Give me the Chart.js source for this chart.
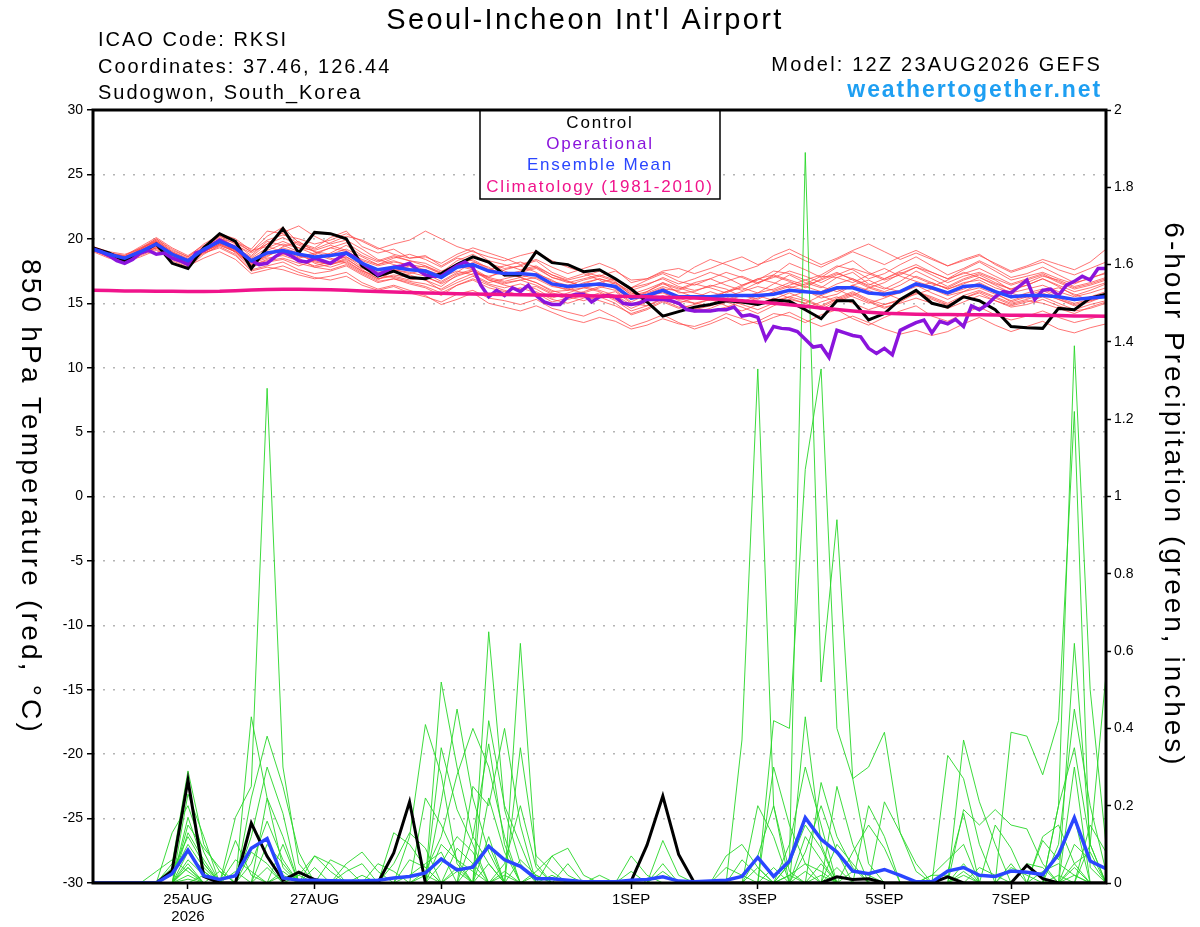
<!DOCTYPE html>
<html>
<head>
<meta charset="utf-8">
<title>Seoul-Incheon Int'l Airport</title>
<script src="https://cdn.jsdelivr.net/npm/chart.js@4.4.1/dist/chart.umd.min.js"></script>
<style>
  html, body { margin: 0; padding: 0; background: #fff; }
  #wrap { width: 1200px; height: 927px; }
</style>
</head>
<body>
<div id="wrap"><canvas id="meteogram" width="1200" height="927"></canvas></div>
<script>
// 6-hourly GEFS fields (0..384 h), operational run is 3-hourly
const ENS_STEP = 6;
const OPER_STEP = 3;

const xTickHours = [36, 84, 132, 204, 252, 300, 348];
const xTickLabels = [["25AUG", "2026"], "27AUG", "29AUG", "1SEP", "3SEP", "5SEP", "7SEP"];

const tempControl = [
  19.3, 18.9, 18.3, 18.9, 19.6, 18.1, 17.7, 19.3, 20.4, 19.8, 17.7, 19.3, 20.8,
  18.9, 20.5, 20.4, 20.0, 17.9, 17.1, 17.5, 17.0, 16.9, 17.3, 18.0, 18.6, 18.2,
  17.2, 17.2, 19.0, 18.15, 18.0, 17.45, 17.6, 16.9, 16.1, 15.1, 14.0, 14.35, 14.7,
  14.9, 15.2, 15.1, 14.9, 15.25, 15.15, 14.5, 13.8, 15.2, 15.2, 13.7, 14.2, 15.3,
  16.0, 15.0, 14.7, 15.5, 15.2, 14.5, 13.2, 13.1, 13.05, 14.6, 14.5, 15.4, 15.7
];

const tempMean = [
  19.2, 18.8, 18.5, 19.0, 19.6, 18.8, 18.3, 19.2, 19.8, 19.3, 18.3, 18.9, 19.1,
  18.8, 18.6, 18.7, 18.9, 18.1, 17.6, 17.8, 17.6, 17.5, 17.0, 17.8, 18.0, 17.5,
  17.3, 17.3, 17.2, 16.5, 16.3, 16.4, 16.5, 16.3, 15.4, 15.6, 16.0, 15.5, 15.5,
  15.5, 15.6, 15.6, 15.6, 15.7, 16.0, 15.9, 15.8, 16.2, 16.2, 15.8, 15.7, 15.9,
  16.5, 16.2, 15.8, 16.3, 16.4, 15.9, 15.5, 15.6, 15.6, 15.5, 15.3, 15.4, 15.5
];

const tempClimatology = [
  16.0, 15.98, 15.96, 15.95, 15.94, 15.93, 15.92, 15.92, 15.93, 15.97, 16.02, 16.06, 16.09,
  16.09, 16.07, 16.04, 16.0, 15.96, 15.92, 15.88, 15.84, 15.8, 15.77, 15.74, 15.72, 15.7,
  15.68, 15.66, 15.64, 15.62, 15.6, 15.58, 15.56, 15.54, 15.52, 15.5, 15.47, 15.44, 15.4,
  15.35, 15.28, 15.2, 15.1, 15.0, 14.88, 14.76, 14.64, 14.52, 14.4, 14.3, 14.22, 14.18,
  14.15, 14.13, 14.12, 14.11, 14.1, 14.09, 14.07, 14.06, 14.05, 14.04, 14.02, 14.01, 14.0
];

const tempOperational = [
  19.2, 19.0, 18.7, 18.3, 18.1, 18.4, 18.9, 19.1, 18.8, 18.9, 18.5, 18.3, 18.0, 18.9, 19.1, 19.5,
  19.9, 19.6, 19.3, 18.8, 18.3, 18.0, 18.1, 18.6, 19.0, 18.7, 18.3, 18.2, 18.5, 18.3, 18.1, 18.5,
  18.9, 18.6, 18.1, 17.7, 17.2, 17.5, 17.8, 17.9, 18.1, 17.6, 17.2, 17.1, 17.1, 17.5, 17.9,
  18.2, 17.8, 16.4, 15.5, 16.0, 15.6, 16.2, 15.9, 16.4, 15.6, 15.1, 14.9, 14.9, 15.5, 15.7,
  15.7, 15.1, 15.5, 15.6, 15.5, 15.0, 14.9, 15.0, 15.3, 15.3, 15.3, 15.2, 15.0, 14.5, 14.4,
  14.4, 14.4, 14.5, 14.5, 14.7, 14.0, 14.1, 13.9, 12.2,
  13.2, 13.05, 13.0, 12.8, 12.2, 11.6, 11.7, 10.8, 12.9, 12.7, 12.5, 12.4, 11.5, 11.1, 11.5,
  11.0, 12.9, 13.2, 13.5, 13.7, 12.7, 13.6, 13.4, 13.75, 13.2, 14.8, 14.5, 14.9, 15.5, 15.9,
  15.8, 16.3, 16.8, 15.3, 16.0, 16.1, 15.6, 16.4, 16.7, 17.1, 16.8, 17.7, 17.7
];

const precipControl = [
  0, 0, 0, 0, 0, .032, .266, .017, 0, 0, .155, .069, .007,
  .028, .009, 0, 0, 0, 0, .078, .21, 0, 0, 0, 0, 0,
  0, 0, 0, 0, 0, 0, 0, 0, .005, .098, .225, .074, 0,
  0, 0, 0, 0, 0, 0, 0, 0, .016, .009, .011, 0, 0,
  0, 0, .016, 0, 0, 0, 0, .046, .011, 0, 0, 0, 0
];

const precipMean = [
  0, 0, 0, 0, 0, .024, .085, .019, .009, .019, .09, .115, .013,
  .007, .007, .006, .005, .005, .007, .013, .017, .026, .062, .034, .041, .095,
  .06, .043, .011, .011, .007, .003, .003, .003, .007, .009, .016, .005, .003,
  .005, .007, .017, .066, .017, .057, .169, .113, .08, .031, .024, .035, .02,
  .003, .003, .031, .04, .02, .017, .031, .028, .022, .074, .169, .057, .037
];

// ensemble members, 850 hPa temperature (C)
const tempMembers = [
  [19.3,18.6,18.4,19.2,20.0,19.1,18.6,19.6,20.3,19.8,19.0,20.2,20.9, 19.7,19.3,20.1,20.6,19.4,18.9,19.2,18.5,18.7,17.9,18.6,19.1,18.3, 18.0,17.6,17.9,17.2,16.8,17.1,17.5,16.9,16.2,16.8,17.3,16.7,16.4, 16.9,17.4,17.0,16.5,17.2,18.1,17.6,17.0,17.8,18.3,17.4,16.9,17.5, 18.0,17.4,16.9,17.6,18.2,17.5,16.8,17.1,17.4,16.9,16.5,17.0,17.3],
  [19.1,18.7,18.2,18.6,19.1,18.4,17.9,18.5,19.0,18.4,17.3,17.6,17.9, 17.4,17.0,16.8,17.1,16.4,16.0,16.3,15.8,15.5,15.1,15.7,16.0,15.4, 15.2,14.9,15.3,14.6,14.3,14.0,14.5,13.9,13.2,13.6,14.1,13.5,13.0, 13.4,13.9,13.3,13.6,14.2,14.0,13.5,14.1,14.5,13.8,13.3,13.9,14.4, 14.8,14.0,13.6,14.2,14.7,14.1,13.7,14.0,14.4,13.9,13.5,13.8,14.1],
  [19.4,18.9,18.6,19.3,19.8,18.9,18.1,19.4,20.2,19.6,18.7,19.8,19.5, 19.0,18.2,18.0,18.5,17.6,16.9,17.2,17.0,16.8,16.3,17.2,17.5,17.0, 17.6,17.9,18.3,17.4,16.9,17.3,16.8,16.1,15.3,15.9,16.6,15.8,15.9, 16.4,16.1,15.5,15.8,16.5,17.2,16.6,16.2,17.0,17.4,16.5,16.1,16.7, 17.5,16.9,16.3,16.9,17.3,16.8,16.0,16.4,16.9,16.3,15.6,16.0,16.5],
  [19.2,18.8,18.6,18.8,19.3,18.6,18.4,19.0,19.6,19.5,18.9,19.6,20.5, 21.0,20.2,19.6,19.9,19.2,18.4,18.0,17.7,17.9,17.4,18.3,18.8,18.1, 17.5,17.0,16.6,15.9,16.0,16.5,16.9,16.6,15.8,15.5,15.9,15.2,15.0, 14.8,15.2,15.6,15.3,15.9,16.3,16.0,15.4,15.7,16.4,16.0,15.5,15.8, 16.3,16.6,16.1,16.5,17.0,16.4,15.8,15.4,15.9,16.2,15.7,15.2,15.5],
  [19.0,18.5,18.3,19.1,19.5,18.5,18.0,19.1,19.9,18.9,17.8,18.2,18.4, 17.9,18.3,18.9,19.5,18.7,18.2,18.6,18.3,18.1,17.5,17.9,17.6,16.9, 16.6,16.8,16.4,15.8,15.5,15.2,15.6,15.9,15.0,14.8,15.3,14.9,14.6, 14.4,14.7,15.1,15.6,15.2,15.5,15.9,15.6,15.1,15.6,16.2,15.8,15.3, 15.7,16.1,15.6,15.9,16.5,15.8,15.1,15.5,15.8,15.3,14.8,15.1,15.6],
  [19.3,18.9,18.7,19.4,20.1,19.3,18.7,19.5,19.9,19.1,18.2,18.6,19.4, 19.8,19.0,18.5,18.1,17.4,16.8,17.5,17.9,17.3,16.7,17.4,18.2,17.8, 17.1,17.4,17.7,17.0,16.6,16.9,17.2,16.8,16.0,16.4,17.0,16.5,16.9, 17.4,17.0,16.4,16.8,17.5,17.3,16.8,17.2,17.9,17.6,16.9,17.3,18.0, 18.6,17.9,17.2,17.7,18.3,17.7,17.0,17.3,17.8,17.2,16.6,16.9,17.4],
  [19.1,18.6,18.4,18.9,19.4,18.7,18.1,18.9,19.4,18.8,17.6,17.9,18.2, 17.6,17.3,17.5,17.9,17.2,16.6,16.9,16.5,16.2,15.6,16.4,16.9,16.4, 16.0,15.6,15.9,15.3,15.0,15.4,15.8,15.2,14.4,14.8,15.4,14.9,14.3, 14.6,15.1,14.7,14.2,14.8,15.3,15.0,14.5,15.2,15.7,15.1,14.6,15.1, 15.8,15.3,14.8,15.4,15.9,15.4,14.9,15.2,15.0,14.6,14.2,14.7,15.1],
  [19.4,19.0,18.8,19.2,19.9,19.0,18.5,19.3,20.4,20.0,19.1,19.4,19.0, 18.6,18.9,19.3,19.0,18.4,18.0,18.5,18.8,18.4,17.8,18.5,18.3,17.6, 17.9,18.2,17.8,17.0,16.7,16.3,16.0,15.6,14.9,15.4,16.1,16.0,16.5, 16.2,15.8,16.3,16.9,16.6,16.2,16.5,17.1,17.0,16.6,17.2,17.7,17.1, 16.7,16.3,16.8,17.4,17.0,16.5,16.1,16.6,17.1,16.8,16.3,16.6,17.0],
  [19.2,18.7,18.3,18.7,19.2,18.3,17.8,18.8,19.5,19.0,18.0,18.8,19.3, 18.9,18.1,17.8,18.2,17.5,17.1,17.4,17.2,16.8,16.0,16.6,17.1,16.5, 16.2,16.5,16.1,15.4,15.8,16.2,15.9,15.3,14.6,15.1,15.6,15.0,15.4, 15.9,15.5,15.0,15.4,15.9,15.4,15.0,15.6,16.1,15.5,15.0,15.4,15.9, 16.4,15.8,15.3,15.9,16.2,15.7,15.2,15.6,16.0,15.4,15.0,15.3,15.7],
  [19.3,18.8,18.5,19.1,19.7,18.9,18.4,19.3,19.7,19.2,18.5,19.3,19.8, 19.3,18.8,18.4,18.6,18.0,17.4,17.6,17.3,17.6,17.2,18.0,17.7,17.0, 16.7,17.0,17.3,16.8,16.1,15.8,16.2,16.6,15.9,15.6,15.8,15.3,15.6, 15.3,15.9,16.2,15.8,16.1,16.6,16.3,15.9,16.5,16.9,16.3,15.9,16.4, 17.1,16.6,16.1,16.6,16.8,16.2,15.8,16.1,16.4,15.9,15.5,15.8,16.2],
  [19.2,18.9,18.6,19.0,19.5,18.7,18.3,19.2,20.0,19.7,19.0,19.9,20.3, 20.0,19.6,19.9,20.4,19.8,19.2,19.6,19.9,20.6,20.0,19.4,19.0,18.6, 18.3,18.7,19.0,18.3,17.8,17.4,17.1,17.5,16.8,16.9,17.5,17.7,17.3, 17.7,18.2,18.6,18.0,18.4,18.9,18.3,17.8,18.4,19.0,18.5,18.0,18.6, 19.1,18.5,17.9,18.4,18.8,18.0,17.4,17.8,18.2,17.6,17.2,17.7,18.2],
  [19.1,18.6,18.4,19.0,19.4,18.6,18.2,19.0,19.6,19.1,18.1,18.5,18.7, 18.3,17.9,18.2,18.6,17.8,17.2,17.0,16.7,16.5,16.1,16.8,17.3,17.1, 17.4,17.0,16.6,16.0,15.6,15.9,16.3,16.0,15.1,15.7,16.2,15.4,15.0, 15.3,15.6,15.2,14.9,15.3,15.8,15.3,14.8,15.4,15.9,15.3,14.9,15.2, 15.9,15.5,15.0,15.6,16.0,15.5,15.0,15.3,15.7,15.3,14.9,15.2,15.6],
  [19.2,18.7,18.4,18.9,19.3,18.5,18.0,18.9,19.3,18.7,17.5,17.8,17.6, 17.2,16.9,17.1,17.4,16.6,16.1,16.4,16.0,15.6,14.9,15.3,15.8,15.0, 14.7,14.4,14.8,14.3,13.8,13.5,13.9,13.6,13.0,13.3,13.8,13.4,13.2, 13.6,14.2,13.8,13.4,13.9,14.3,13.7,13.2,13.6,14.0,13.5,13.0,12.6, 12.9,12.5,12.8,13.4,13.9,13.3,12.8,13.2,13.6,13.0,12.7,13.1,13.4],
  [19.3,18.8,18.5,19.2,19.8,18.9,18.3,19.4,20.1,19.4,18.4,19.0,18.9, 18.5,18.8,19.3,19.7,18.9,18.3,18.7,18.3,17.9,17.3,18.1,18.6,18.1, 17.7,17.9,17.4,16.7,16.4,16.8,17.1,16.7,15.6,15.9,16.5,16.1,16.6, 16.9,16.4,16.0,16.6,17.1,16.7,16.2,16.9,17.4,16.8,16.2,16.6,17.3, 17.8,17.2,16.6,17.1,17.4,16.9,16.4,16.8,17.2,16.6,16.1,16.4,16.8],
  [19.2,18.8,18.6,19.1,19.7,18.8,18.3,19.1,19.7,19.1,18.1,18.7,19.1, 18.7,18.3,18.0,18.3,17.5,16.9,17.1,16.8,17.0,16.6,17.3,17.6,16.8, 16.5,16.8,17.0,16.4,16.0,16.2,16.5,16.2,15.4,15.8,16.3,15.9,15.5, 15.2,15.5,15.9,16.3,16.0,16.4,16.8,16.3,15.9,16.4,16.8,16.2,15.9, 16.5,16.2,15.7,16.1,16.6,16.0,15.4,15.8,16.1,15.6,15.2,15.5,15.9],
  [19.3,18.9,18.6,19.0,19.5,18.7,18.2,19.2,19.8,19.3,18.6,19.6,20.1, 19.5,19.0,18.8,19.2,18.6,18.0,18.3,17.9,17.6,17.0,17.5,17.2,16.6, 16.9,17.2,16.9,16.3,16.1,16.6,16.9,16.5,15.7,16.1,16.6,16.2,15.8, 15.5,15.9,16.4,16.9,17.2,16.8,16.4,16.8,17.3,16.9,16.4,16.9,17.4, 17.0,16.5,16.2,16.8,17.2,16.6,16.1,16.4,16.9,16.4,15.9,16.2,16.6],
  [19.1,18.7,18.5,18.8,19.3,18.6,18.2,19.0,19.5,19.0,18.0,18.3,18.5, 18.1,17.8,18.0,18.4,17.7,17.3,17.6,17.4,17.1,16.5,17.1,17.5,16.8, 16.4,16.1,16.3,15.7,15.3,15.6,15.2,14.8,14.2,14.6,15.2,14.7,14.5, 14.8,15.3,14.9,14.5,15.0,15.5,15.2,14.7,15.3,15.8,15.2,14.7,15.0, 15.4,15.0,14.6,15.1,15.6,15.2,14.7,14.9,15.3,14.8,14.4,14.6,15.0],
  [19.2,18.8,18.5,19.2,19.9,19.0,18.4,19.3,19.9,19.3,18.4,19.1,19.6, 19.3,19.1,19.5,19.1,18.3,17.9,18.2,18.0,17.8,17.3,18.0,18.4,17.7, 17.2,17.5,17.8,17.2,16.7,16.3,16.6,16.9,16.2,16.5,16.9,16.3,16.0, 16.3,16.7,17.1,16.6,17.0,17.5,17.1,16.6,17.2,17.7,17.3,16.8,17.2, 17.8,17.4,16.9,17.3,17.7,17.1,16.5,16.9,17.3,16.7,16.2,16.5,16.9],
  [19.3,18.7,18.4,19.1,19.8,18.9,18.3,19.0,19.6,19.0,17.9,18.4,18.8, 18.5,17.8,17.6,18.0,17.3,16.7,16.9,16.6,16.3,15.8,16.4,16.8,16.2, 15.9,16.2,15.8,15.1,15.4,15.8,15.5,15.0,14.1,14.5,15.1,14.6,14.9, 15.3,14.8,14.4,14.9,15.4,15.0,14.6,15.1,15.5,15.0,14.5,14.9,15.3, 15.9,15.4,14.9,15.4,15.8,15.2,14.8,15.1,15.5,15.0,14.5,14.9,15.2],
  [19.2,18.9,18.7,19.3,20.0,19.2,18.6,19.4,20.2,19.8,19.2,20.6,20.4, 19.6,19.2,19.7,20.2,19.9,19.3,18.8,18.5,18.6,18.1,18.8,19.3,18.9, 18.5,18.0,18.4,17.8,17.3,17.7,18.1,17.6,16.6,16.9,17.4,17.0,17.8, 18.4,18.0,17.5,17.9,18.7,19.2,18.6,18.0,18.5,19.1,19.6,19.0,18.4, 18.9,18.4,17.9,18.3,18.7,18.1,17.5,17.9,18.4,18.0,17.6,18.2,19.2]
];

// ensemble members, 6-hour precipitation (inches)
const precipMembers = [
  [0,0,0,0,0,.05,.29,.10,.03,0,.43,.22,.04, 0,0,0,0,0,0,0,0,0,.52,.30,.12,.05, 0,0,0,0,0,0,0,0,0,0,0,0,0, 0,0,0,.04,0,0,.43,.10,0,0,0,0,0, 0,0,0,.37,.21,.10,0,0,0,.20,1.39,.50,.10],
  [0,0,0,0,0,0,.23,.12,0,.17,.25,1.28,.30, .05,0,0,0,0,0,.13,.10,.04,0,0,0,.65, .19,.05,0,0,0,0,0,0,0,0,0,0,0, 0,0,.37,1.33,.20,.03,0,0,0,0,0,0,0, 0,0,.33,.27,.10,0,0,0,0,0,.62,.10,.54],
  [0,0,0,0,0,.13,.20,.08,0,0,0,.22,.12, 0,.07,.03,0,0,0,0,0,0,.35,.19,.10,0, 0,.62,.05,0,0,0,0,0,0,0,0,0,0, 0,0,0,0,0,.05,1.89,.52,.94,.27,.05,0,0, 0,0,0,0,0,0,.39,.38,.28,.42,1.22,.04,0],
  [0,0,0,0,0,0,.17,.05,0,0,.05,.16,.06, 0,0,0,0,0,0,0,.12,.41,.28,.05,0,.42, .20,.10,0,0,0,0,0,0,0,0,.11,.02,0, 0,0,0,0,.42,.40,1.07,1.33,.40,.27,.30,.39,.13, .05,0,0,0,0,0,0,0,0,0,.30,0,0],
  [0,0,0,0,0,0,.15,.09,.04,0,0,0,.10, 0,0,0,.05,.08,.03,0,0,0,0,0,.12,.36, .10,0,0,.07,.09,.02,0,0,0,0,0,0,0, 0,.07,.10,.04,0,0,0,0,0,0,0,.21,.13, .03,0,0,0,0,0,0,0,.11,.06,.17,0,0],
  [0,0,0,0,0,.03,.12,.05,0,.11,.02,0,0, .02,.07,.05,0,0,0,0,0,0,.21,.45,.22,.08, 0,0,0,0,0,0,0,0,.07,.02,0,0,0, 0,0,0,0,0,0,0,.26,.12,.04,0,0,0, 0,0,0,.19,.15,.19,.15,.14,.05,0,0,.10,0],
  [0,0,0,0,0,0,.08,.03,0,0,.22,.38,.25, .08,0,0,0,0,.05,.03,0,0,0,0,.25,.20, .40,.15,0,0,0,0,0,0,0,0,0,0,0, 0,0,0,0,0,.10,.30,.15,0,0,0,0,0, 0,0,0,.05,0,0,0,0,0,0,.05,.08,0],
  [0,0,0,0,0,0,.06,.02,0,0,0,0,.02, 0,0,.06,.04,0,0,0,0,.03,.12,.28,.40,.30, .12,0,0,0,0,0,0,0,0,0,0,0,0, 0,0,0,.07,.20,0,0,0,.25,.10,0,0,0, 0,0,.03,.18,0,0,0,0,0,.20,.35,.10,0],
  [0,0,0,0,0,0,.04,0,0,.03,0,0,0, 0,0,0,0,0,0,.05,.13,.09,0,.09,.05,0, 0,.35,.07,.03,0,0,0,0,0,0,0,0,0, 0,0,0,0,0,0,0,0,0,.08,.15,.09,0, 0,0,0,0,0,.15,.09,0,.12,.15,.05,0,0],
  [0,0,0,0,.03,.06,.03,0,0,0,0,.10,.05, 0,.04,0,0,0,0,0,.06,.04,0,0,0,0, 0,0,.02,0,.05,0,0,0,0,0,.05,0,0, 0,0,.06,.02,0,0,.08,.20,.08,0,0,0,0, 0,.02,.02,0,0,0,0,0,0,0,0,.15,.08],
  [0,0,0,0,0,.02,.10,.04,0,0,.08,.05,0, 0,0,0,0,0,0,0,0,.22,.15,.06,0,.22, .08,0,0,0,0,0,0,0,0,0,0,0,0, 0,0,0,0,0,.02,.05,.03,0,.03,.02,0,0, 0,0,0,0,0,0,.04,.02,0,0,0,0,0],
  [0,0,0,0,0,0,.05,0,0,0,0,0,0, 0,0,0,.03,.05,0,0,0,0,0,0,0,0, .05,.20,.04,0,0,0,0,0,0,0,0,0,0, 0,0,0,0,.30,.15,.05,0,0,0,.20,.12,0, 0,0,0,0,0,0,0,.05,.04,0,0,0,0],
  [0,0,0,0,0,0,0,.02,0,0,.12,.30,.18, 0,0,0,0,0,0,0,0,0,.05,.12,.08,0, 0,0,0,.02,0,0,0,0,.03,0,0,0,0, 0,0,0,.20,.12,0,0,0,.10,.05,0,0,0, 0,0,0,0,0,0,0,0,0,.10,.45,.20,.03],
  [0,0,0,0,0,0,.02,0,0,0,0,.04,0, 0,0,0,0,0,0,0,0,0,0,.04,0,.12, 0,0,0,0,0,0,0,0,0,0,.03,0,0, 0,.04,.02,0,0,0,0,.02,0,0,0,0,0, 0,0,0,.03,0,0,0,0,0,0,.04,0,0],
  [0,0,0,0,0,.04,.08,.03,0,0,0,0,0, .02,0,0,0,0,0,0,.02,.05,.08,0,0,0, .02,0,0,0,0,0,0,0,0,0,0,0,0, 0,0,0,0,0,0,.12,.06,0,0,0,0,0, 0,0,0,0,.04,.02,0,0,0,0,.02,0,0],
  [0,0,0,0,0,0,.13,.06,0,0,0,0,.03, 0,0,0,0,0,0,0,0,0,.10,.06,.03,0, 0,0,.03,.07,.02,0,0,0,0,0,0,0,0, 0,0,0,0,0,.05,.15,.09,0,0,0,0,0, 0,.02,.06,.10,0,0,.05,0,0,0,0,0,0],
  [0,0,0,0,0,0,.04,0,0,.06,.03,0,0, 0,0,0,0,0,0,0,0,0,0,0,.05,.10, 0,0,0,0,0,0,.02,0,0,0,0,0,0, 0,0,0,0,0,0,0,0,.04,0,0,0,0, 0,0,0,0,0,0,0,0,.03,.05,.02,0,0],
  [0,0,0,0,0,0,.01,0,0,0,0,0,0, 0,0,0,0,0,0,0,0,.02,0,0,0,.05, 0,0,0,0,0,0,0,0,0,0,0,0,0, 0,0,0,0,.04,0,0,.05,0,0,0,0,0, 0,0,0,.02,0,0,0,0,0,0,0,0,0],
  [0,0,0,0,0,0,0,0,.03,0,0,0,0, 0,0,0,0,.02,0,0,0,0,0,.03,0,0, .03,0,0,0,0,0,0,0,0,0,0,0,0, 0,0,0,0,0,0,.03,0,0,0,0,0,0, 0,0,0,0,0,0,0,0,0,0,.10,.06,0],
  [0,0,0,0,0,0,0,0,0,0,0,0,0, 0,0,0,0,0,0,0,0,0,0,0,0,0, 0,.06,.02,0,0,0,0,0,0,0,0,0,0, 0,0,0,0,0,.02,0,0,0,0,0,0,0, 0,0,0,0,0,0,0,0,0,.02,0,0,0]
];

const TEXT_FONT = '"Liberation Sans", Arial, Helvetica, sans-serif';

function toPoints(values, step) {
  return values.map((v, i) => ({ x: i * step, y: v }));
}

function line(values, step, axis, color, width) {
  return {
    data: toPoints(values, step),
    yAxisID: axis,
    borderColor: color,
    borderWidth: width,
    pointRadius: 0,
    tension: 0,
    fill: false
  };
}

// first dataset is painted last (on top)
const datasets = [
  line(tempClimatology, ENS_STEP, "yTemp", "#f0148c", 3.5),
  line(tempMean, ENS_STEP, "yTemp", "#2a46ff", 3.5),
  line(precipMean, ENS_STEP, "yPrecip", "#2a46ff", 3.5),
  line(tempOperational, OPER_STEP, "yTemp", "#8a14dc", 3.5),
  line(tempControl, ENS_STEP, "yTemp", "#000000", 3),
  line(precipControl, ENS_STEP, "yPrecip", "#000000", 3)
];
precipMembers.forEach(m => datasets.push(line(m, ENS_STEP, "yPrecip", "rgba(40, 215, 40, 0.9)", 1)));
tempMembers.forEach(m => datasets.push(line(m, ENS_STEP, "yTemp", "rgba(255, 70, 70, 0.75)", 1)));

function drawText(ctx, text, x, y, font, color, align, spacing, angle) {
  ctx.save();
  ctx.font = font;
  ctx.fillStyle = color;
  ctx.textAlign = align;
  ctx.textBaseline = "alphabetic";
  if ("letterSpacing" in ctx) ctx.letterSpacing = spacing + "px";
  ctx.translate(x, y);
  if (angle) ctx.rotate(angle);
  ctx.fillText(text, 0, 0);
  ctx.restore();
}

const decorations = {
  id: "decorations",
  afterDatasetsDraw(chart) {
    const ctx = chart.ctx;
    // legend box
    ctx.save();
    ctx.fillStyle = "#fff";
    ctx.fillRect(480, 110, 240, 89);
    ctx.strokeStyle = "#000";
    ctx.lineWidth = 1.5;
    ctx.strokeRect(480, 110, 240, 89);
    ctx.restore();
    const lf = "17px " + TEXT_FONT;
    drawText(ctx, "Control", 600, 127.5, lf, "#000", "center", 1.8);
    drawText(ctx, "Operational", 600, 148.5, lf, "#8a14dc", "center", 1.8);
    drawText(ctx, "Ensemble Mean", 600, 170, lf, "#2a46ff", "center", 1.8);
    drawText(ctx, "Climatology (1981-2010)", 600, 191.5, lf, "#f0148c", "center", 1.8);
  },
  afterDraw(chart) {
    const ctx = chart.ctx;
    const a = chart.chartArea;
    ctx.save();
    ctx.strokeStyle = "#000";
    ctx.lineWidth = 3;
    ctx.strokeRect(a.left, a.top, a.right - a.left, a.bottom - a.top);
    ctx.restore();

    drawText(ctx, "Seoul-Incheon Int'l Airport", 585, 29, "29px " + TEXT_FONT, "#000", "center", 2.4);
    const info = "20px " + TEXT_FONT;
    drawText(ctx, "ICAO Code: RKSI", 98, 46, info, "#000", "left", 2);
    drawText(ctx, "Coordinates: 37.46, 126.44", 98, 72.5, info, "#000", "left", 2);
    drawText(ctx, "Sudogwon, South_Korea", 98, 99, info, "#000", "left", 2);
    drawText(ctx, "Model: 12Z 23AUG2026 GEFS", 1102, 71, info, "#000", "right", 2.2);
    drawText(ctx, "weathertogether.net", 1102, 97, "bold 23px " + TEXT_FONT, "#1e9ff2", "right", 1.9);

    const axisFont = "28px " + TEXT_FONT;
    drawText(ctx, "850 hPa Temperature (red, \u00b0C)", 22, 497, axisFont, "#000", "center", 3.2, Math.PI / 2);
    drawText(ctx, "6-hour Precipitation (green, inches)", 1165, 495, axisFont, "#000", "center", 3, Math.PI / 2);
  }
};

const tickFont = { family: TEXT_FONT, size: 14 };

new Chart(document.getElementById("meteogram"), {
  type: "line",
  data: { datasets: datasets },
  options: {
    responsive: false,
    animation: false,
    devicePixelRatio: 1,
    events: [],
    layout: { padding: { top: 110, left: 0, right: 0, bottom: 0 } },
    plugins: {
      legend: { display: false },
      tooltip: { enabled: false },
      title: { display: false }
    },
    scales: {
      x: {
        type: "linear",
        min: 0,
        max: 384,
        afterBuildTicks(scale) {
          scale.ticks = xTickHours.map(h => ({ value: h }));
        },
        afterFit(scale) { scale.height = 44; },
        ticks: {
          autoSkip: false,
          maxRotation: 0,
          padding: 2,
          color: "#000",
          font: { family: TEXT_FONT, size: 15, lineHeight: 1.15 },
          callback: (value, index) => xTickLabels[index]
        },
        grid: { drawOnChartArea: false, tickLength: 6, tickColor: "#000", tickWidth: 1.5 },
        border: { display: false }
      },
      yTemp: {
        type: "linear",
        position: "left",
        min: -30,
        max: 30,
        afterFit(scale) { scale.width = 93; },
        ticks: { stepSize: 5, color: "#000", font: tickFont, padding: 4 },
        grid: {
          color: "#b4b4b4",
          lineWidth: 1.5,
          tickColor: "#000",
          tickWidth: 1.5,
          tickLength: 6,
          tickBorderDash: []
        },
        border: { display: false, dash: [2, 8] }
      },
      yPrecip: {
        type: "linear",
        position: "right",
        min: 0,
        max: 2,
        afterFit(scale) { scale.width = 94; },
        ticks: {
          stepSize: 0.2,
          color: "#000",
          font: tickFont,
          padding: 3,
          callback: v => String(Number(v.toFixed(1)))
        },
        grid: { drawOnChartArea: false, tickColor: "#000", tickWidth: 1.5, tickLength: 5 },
        border: { display: false }
      }
    }
  },
  plugins: [decorations]
});
</script>
</body>
</html>
